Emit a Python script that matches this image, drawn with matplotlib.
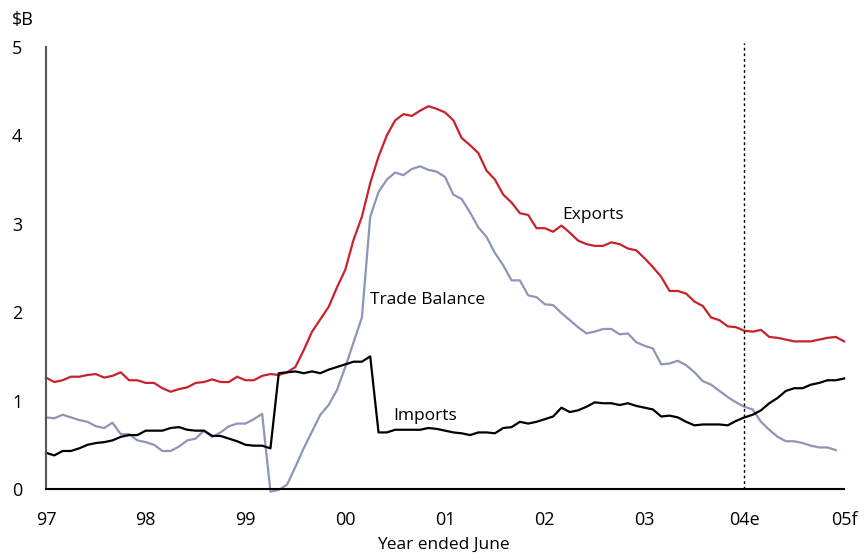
import numpy as np
import matplotlib
matplotlib.use('Agg')
import matplotlib.pyplot as plt

plt.rcParams['font.family'] = ['Open Sans', 'DejaVu Sans']

# Monthly values, $B, starting June 1997
exports = [1.26, 1.21, 1.23, 1.27, 1.27, 1.29, 1.30, 1.26, 1.28, 1.32, 1.23, 1.23,
           1.20, 1.20, 1.14, 1.10, 1.13, 1.15, 1.20, 1.21, 1.24, 1.21, 1.21, 1.27,
           1.23, 1.23, 1.28, 1.30, 1.29, 1.32, 1.38, 1.57, 1.78, 1.92, 2.06, 2.28,
           2.48, 2.82, 3.08, 3.46, 3.76, 4.00, 4.17, 4.24, 4.22, 4.28, 4.33, 4.30,
           4.26, 4.17, 3.97, 3.89, 3.80, 3.60, 3.50, 3.33, 3.24, 3.12, 3.10, 2.95,
           2.95, 2.91, 2.98, 2.90, 2.81, 2.77, 2.75, 2.75, 2.79, 2.77, 2.72, 2.70,
           2.61, 2.51, 2.40, 2.24, 2.24, 2.21, 2.12, 2.07, 1.94, 1.91, 1.84, 1.83,
           1.79, 1.78, 1.80, 1.72, 1.71, 1.69, 1.67, 1.67, 1.67, 1.69, 1.71, 1.72,
           1.67]

imports = [0.41, 0.38, 0.43, 0.43, 0.46, 0.50, 0.52, 0.53, 0.55, 0.59, 0.61, 0.61,
           0.66, 0.66, 0.66, 0.69, 0.70, 0.67, 0.66, 0.66, 0.60, 0.60, 0.57, 0.54,
           0.50, 0.49, 0.49, 0.46, 1.31, 1.32, 1.33, 1.31, 1.33, 1.31, 1.35, 1.38,
           1.41, 1.44, 1.44, 1.50, 0.64, 0.64, 0.67, 0.67, 0.67, 0.67, 0.69, 0.68,
           0.66, 0.64, 0.63, 0.61, 0.64, 0.64, 0.63, 0.69, 0.70, 0.76, 0.74, 0.76,
           0.79, 0.82, 0.92, 0.87, 0.89, 0.93, 0.98, 0.97, 0.97, 0.95, 0.97, 0.94,
           0.92, 0.90, 0.82, 0.83, 0.81, 0.76, 0.72, 0.73, 0.73, 0.73, 0.72, 0.77,
           0.81, 0.84, 0.89, 0.97, 1.03, 1.11, 1.14, 1.14, 1.18, 1.20, 1.23, 1.23,
           1.25]

trade_balance = [0.81, 0.80, 0.84, 0.81, 0.78, 0.76, 0.71, 0.69, 0.75, 0.62, 0.62, 0.55,
                 0.53, 0.50, 0.43, 0.43, 0.48, 0.55, 0.57, 0.66, 0.59, 0.64, 0.71, 0.74,
                 0.74, 0.79, 0.85, -0.03, -0.01, 0.05, 0.25, 0.46, 0.65, 0.84, 0.95, 1.12,
                 1.38, 1.66, 1.94, 3.08, 3.36, 3.50, 3.58, 3.55, 3.62, 3.65, 3.61, 3.59,
                 3.53, 3.33, 3.28, 3.13, 2.96, 2.85, 2.67, 2.53, 2.36, 2.36, 2.19, 2.17,
                 2.09, 2.08, 1.99, 1.91, 1.83, 1.76, 1.78, 1.81, 1.81, 1.75, 1.76, 1.66,
                 1.62, 1.59, 1.41, 1.42, 1.45, 1.40, 1.32, 1.22, 1.18, 1.11, 1.04, 0.98,
                 0.93, 0.90, 0.76, 0.67, 0.59, 0.54, 0.54, 0.52, 0.49, 0.47, 0.47, 0.44]

tick_years = [1997, 1998, 1999, 2000, 2001, 2002, 2003, 2004, 2005]
tick_labels = ['97', '98', '99', '00', '01', '02', '03', '04e', '05f']

x_exp = 1997 + np.arange(len(exports)) / 12
x_imp = 1997 + np.arange(len(imports)) / 12
x_bal = 1997 + np.arange(len(trade_balance)) / 12

fig = plt.figure(figsize=(8.64, 5.56), dpi=100)
ax = fig.add_axes([0.0532, 0.1205, 0.9238, 0.795])

ax.plot(x_bal, trade_balance, color='#8e96b6', lw=1.6, clip_on=False)
ax.plot(x_exp, exports, color='#c8232c', lw=1.6, clip_on=False)
ax.plot(x_imp, imports, color='black', lw=1.6, clip_on=False)

# forecast divider
ax.plot([2004, 2004], [0, 5.05], color='black', lw=1, ls=(0, (2, 2)), clip_on=False)

ax.set_xlim(1997, 2005)
ax.set_ylim(0, 5)
ax.set_xticks(tick_years)
ax.set_xticklabels(tick_labels)
ax.set_yticks([0, 1, 2, 3, 4, 5])
ax.tick_params(length=0, labelsize=13)
ax.tick_params(axis='y', pad=17)
ax.tick_params(axis='x', pad=16)

ax.spines['top'].set_visible(False)
ax.spines['right'].set_visible(False)
ax.spines['left'].set_color('#555555')
ax.spines['left'].set_linewidth(1.5)
ax.spines['bottom'].set_linewidth(1.5)

ax.text(2002.17, 3.10, 'Exports', fontsize=12.5, va='center')
ax.text(2000.25, 2.14, 'Trade Balance', fontsize=12.5, va='center')
ax.text(2000.48, 0.83, 'Imports', fontsize=12.5, va='center')

fig.text(12 / 864, 1 - 20 / 556, '$B', fontsize=13, va='center', ha='left')
fig.text(443 / 864, 1 - 545 / 556, 'Year ended June', fontsize=12.5, va='center', ha='center')

fig.savefig('out.png', dpi=100)
